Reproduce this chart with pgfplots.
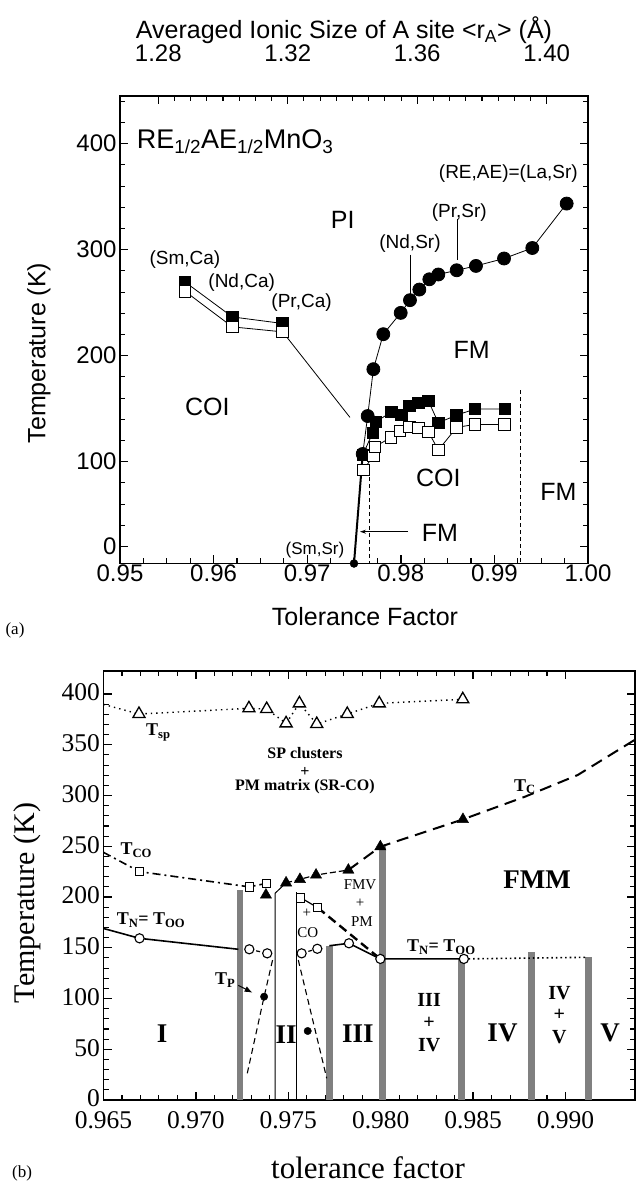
\documentclass[border=0pt]{standalone}
\usepackage{fontspec}
\setmainfont{Liberation Serif}
\setsansfont{Liberation Sans}
\usepackage{pgfplots}
\pgfplotsset{compat=1.18}
\usetikzlibrary{arrows.meta}

\newcommand{\fs}[1]{\fontsize{#1}{#1}\selectfont}

\pgfplotsset{
  panel/.style={
    scale only axis, clip=false, tick align=inside,
    scaled x ticks=false, scaled y ticks=false,
    /pgf/number format/assume math mode=true,
    axis line style={line width=1.8pt},
    major tick style={line width=1.4pt, black},
    minor tick style={line width=1.1pt, black},
    major tick length=8pt, minor tick length=5pt,
  },
  bar/.style={black!50, line width=6.5pt, forget plot},
}

\begin{document}
\begin{tikzpicture}[x=1pt,y=1pt]
\useasboundingbox (0,0) rectangle (638,1183);

% ================= panel (a) =================
\begin{axis}[panel,
  at={(120pt,619.5pt)}, anchor=south west,
  width=468pt, height=467.5pt,
  xmin=0.95, xmax=1.00, ymin=4, ymax=445,
  xtick={0.95,0.96,0.97,0.98,0.99,1.00},
  xticklabels={0.95,0.96,0.97,0.98,0.99,1.00},
  minor x tick num=3,
  ytick={20,100,200,300,400}, yticklabels={0,100,200,300,400},
  minor ytick={40,60,80,120,140,160,180,220,240,260,280,320,340,360,380,420,440},
  xtick pos=left, ytick pos=both,
  tick label style={font=\sffamily\fs{24}},
  xticklabel shift=-2pt,
]
% Ca compounds
\addplot[black, line width=0.8pt] coordinates {(0.96738,222.5) (0.97457,141.8)};
\addplot[black, line width=0.8pt, mark=square*, mark size=5.8pt]
  coordinates {(0.95694,269.6) (0.96200,236.6) (0.96738,230.4)};
\addplot[black, line width=0.8pt, mark=square*, mark size=5.8pt, mark options={fill=white}]
  coordinates {(0.95694,260.8) (0.96200,227.2) (0.96738,222.5)};
% Sr compounds: T_C
\addplot[black, line width=2pt] coordinates {(0.97500,4) (0.97593,107.3)};
\addplot[black, line width=0.8pt, mark=*, mark size=6.5pt] coordinates {
  (0.97593,107.3) (0.97646,143.1) (0.97707,187.3) (0.97813,220.3) (0.97999,240.4)
  (0.98098,252.4) (0.98198,262.4) (0.98305,272.1) (0.98401,276.6) (0.98597,280.6)
  (0.98803,284.7) (0.99103,291.7) (0.99405,301.6) (0.99772,343.5)};
\addplot[black, only marks, mark=*, mark size=4pt] coordinates {(0.97500,4)};
% Sr compounds: T_CO
\addplot[black, line width=0.8pt, mark=square*, mark size=5.8pt] coordinates {
  (0.97593,106.3) (0.97700,127.3) (0.97735,137.7) (0.97902,147.1) (0.98009,144.0)
  (0.98090,152.5) (0.98187,155.6) (0.98294,157.5) (0.98401,136.7) (0.98597,144.0)
  (0.98793,149.7) (0.99113,149.7)};
\addplot[black, line width=0.8pt, mark=square*, mark size=5.8pt, mark options={fill=white}] coordinates {
  (0.97600,92.2) (0.97707,105.4) (0.97724,114.1) (0.97895,123.0) (0.97991,129.2)
  (0.98090,133.0) (0.98187,132.0) (0.98294,128.3) (0.98401,111.0) (0.98597,132.4)
  (0.98793,135.2) (0.99106,135.2)};
% boundaries
\addplot[black, line width=0.9pt, dash pattern=on 4pt off 3pt] coordinates {(0.97663,92) (0.97663,4)};
\addplot[black, line width=0.9pt, dash pattern=on 4pt off 3pt] coordinates {(0.99274,167.6) (0.99274,4)};
\addplot[black, line width=0.9pt, -{Stealth[length=6pt,width=4pt]}] coordinates {(0.98077,34) (0.97564,34)};
\addplot[black, line width=0.9pt] coordinates {(0.98098,295.4) (0.98098,257.1)};
\addplot[black, line width=0.9pt] coordinates {(0.98604,329.3) (0.98604,290.1)};
% labels
\begin{scope}[every node/.style={font=\sffamily\fs{25}}]
\node at (axis cs:0.97379,327.7) {PI};
\node at (axis cs:0.98757,205.2) {FM};
\node at (axis cs:0.95933,151.3) {COI};
\node at (axis cs:0.98401,84.4) {COI};
\node at (axis cs:0.99683,71.7) {FM};
\node at (axis cs:0.98419,32.8) {FM};
\end{scope}
\node[font=\sffamily\fs{27}, anchor=base west, inner sep=0pt] at (axis cs:0.95178,395.3)
  {RE\textsubscript{1/2}AE\textsubscript{1/2}MnO\textsubscript{3}};
\begin{scope}[every node/.style={font=\sffamily\fs{19}, inner sep=0pt}]
\node at (axis cs:0.95694,290.7) {(Sm,Ca)};
\node at (axis cs:0.96300,268.7) {(Nd,Ca)};
\node at (axis cs:0.96940,249.8) {(Pr,Ca)};
\node at (axis cs:0.98098,305.8) {(Nd,Sr)};
\node at (axis cs:0.98625,334.6) {(Pr,Sr)};
\node at (axis cs:0.99149,371.7) {(RE,AE)=(La,Sr)};
\node[font=\sffamily\fs{17}] at (axis cs:0.97083,16.8) {(Sm,Sr)};
\end{scope}
\end{axis}

% top axis of (a)
\begin{axis}[panel,
  at={(120pt,619.5pt)}, anchor=south west,
  width=468pt, height=467.5pt,
  xmin=1.26817, xmax=1.41276, ymin=0, ymax=1,
  axis x line*=top, axis y line=none,
  xtick={1.28,1.32,1.36,1.40}, xticklabels={1.28,1.32,1.36,1.40},
  minor x tick num=7,
  tick label style={font=\sffamily\fs{24}},
  xticklabel shift=31pt,
]
\end{axis}

\node[font=\sffamily\fs{25}] at (344,1153) {Averaged Ionic Size of A site <r\textsubscript{A}> (Å)};
\node[font=\sffamily\fs{25}, rotate=90] at (39,830) {Temperature (K)};
\node[font=\sffamily\fs{25}] at (365,566) {Tolerance Factor};
\node[font=\fs{17}] at (15,553) {(a)};

% ================= panel (b) =================
\begin{axis}[panel,
  at={(103.5pt,83pt)}, anchor=south west,
  width=531.5pt, height=429pt,
  xmin=0.965, xmax=0.99376, ymin=0, ymax=422.7,
  xtick={0.965,0.970,0.975,0.980,0.985,0.990},
  xticklabels={0.965,0.970,0.975,0.980,0.985,0.990},
  minor x tick num=4,
  ytick={0,50,100,150,200,250,300,350,400},
  yticklabels={0,50,100,150,200,250,300,350,400},
  minor y tick num=4,
  xtick pos=both, ytick pos=both,
  tick label style={font=\fs{25.5}},
  xticklabel shift=8pt,
  yticklabel style={yshift=1.5pt},
]
% phase boundaries between regions
\addplot[bar] coordinates {(0.97239,0) (0.97239,206.9)};
\addplot[bar] coordinates {(0.97722,0) (0.97722,151.7)};
\addplot[bar] coordinates {(0.98009,0) (0.98009,250.0)};
\addplot[bar] coordinates {(0.98438,0) (0.98438,139.0)};
\addplot[bar] coordinates {(0.98817,0) (0.98817,146.2)};
\addplot[bar] coordinates {(0.99123,0) (0.99123,141.2)};
\addplot[black, line width=1pt] coordinates {(0.97428,0) (0.97428,203.6) (0.97488,214)};
\addplot[black, line width=1pt] coordinates {(0.97542,0) (0.97542,205)};
% T_sp
\addplot[black, line width=1.4pt, dash pattern=on 1.4pt off 4pt] coordinates {
  (0.965,389.8) (0.96692,380.3) (0.97287,385.9) (0.97383,385.2) (0.97488,371.1)
  (0.97560,390.8) (0.97654,370.4) (0.97819,380.3) (0.97992,390.8) (0.98444,394.8)};
\addplot[black, only marks, mark=triangle*, mark size=7pt, mark options={fill=white, line width=1.3pt}] coordinates {
  (0.96692,380.3) (0.97287,385.9) (0.97383,385.2) (0.97488,371.1)
  (0.97560,390.8) (0.97654,370.4) (0.97819,380.3) (0.97992,390.8) (0.98444,394.8)};
% T_CO
\addplot[black, line width=1.6pt, dash pattern=on 8pt off 4pt on 2pt off 4pt] coordinates {
  (0.965,244) (0.96695,225) (0.97289,210) (0.97383,213.5)};
\addplot[black, line width=1.2pt] coordinates {(0.97567,199.3) (0.97659,189.5)};
\addplot[black, line width=2.4pt, dash pattern=on 9pt off 5pt] coordinates {(0.97659,189.5) (0.97998,139)};
% T_C
\addplot[black, line width=1.2pt, dash pattern=on 6pt off 3pt] coordinates {
  (0.97488,214) (0.97563,217.4) (0.97650,221.7) (0.97825,226.6)};
\addplot[black, line width=2pt, dash pattern=on 12pt off 7pt] coordinates {
  (0.97825,226.6) (0.97998,249.6) (0.98445,276.5) (0.98780,298.8) (0.99066,320.2) (0.99376,355)};
% T_N = T_OO
\addplot[black, line width=1.6pt] coordinates {(0.965,169) (0.96695,159.3) (0.97230,148.5)};
\addplot[black, line width=1.2pt, dash pattern=on 4pt off 3pt] coordinates {(0.97289,148.5) (0.97386,144.5)};
\addplot[black, line width=1.2pt, dash pattern=on 4pt off 3pt] coordinates {(0.97572,144.5) (0.97657,149)};
\addplot[black, line width=1.6pt] coordinates {(0.97722,152) (0.97828,154.4) (0.97998,139) (0.98450,139)};
\addplot[black, line width=1.6pt, dash pattern=on 1.6pt off 3pt] coordinates {(0.98450,139) (0.99121,140.6)};
% T_P
\addplot[black, line width=1.1pt, dash pattern=on 6pt off 4pt] coordinates {(0.97278,26.3) (0.97369,101.8) (0.97419,141.2)};
\addplot[black, line width=1.1pt, dash pattern=on 6pt off 4pt] coordinates {(0.97554,137.9) (0.97708,21.4)};
\addplot[black, line width=1pt, -{Latex[length=8pt,width=6pt]}] coordinates {(0.97229,113) (0.97307,105.7)};
% markers
\addplot[black, only marks, mark=square*, mark size=4.3pt, mark options={fill=white, line width=1pt}] coordinates {
  (0.96695,225) (0.97289,210) (0.97383,213.5) (0.97567,199.3) (0.97659,189.5)};
\addplot[black, only marks, mark=triangle*, mark size=6.5pt] coordinates {
  (0.97379,202) (0.97488,214) (0.97563,217.4) (0.97650,221.7) (0.97825,226.6) (0.97998,249.6) (0.98445,276.5)};
\addplot[black, only marks, mark=*, mark size=4.6pt, mark options={fill=white, line width=1.1pt}] coordinates {
  (0.96695,159.3) (0.97289,148.5) (0.97386,144.5) (0.97572,144.5) (0.97657,149)
  (0.97828,154.4) (0.97998,139) (0.98450,139)};
\addplot[black, only marks, mark=*, mark size=3.7pt] coordinates {(0.97369,101.8) (0.97605,68)};
% labels
\begin{scope}[every node/.style={font=\bfseries\fs{18}, inner sep=0pt}]
\node at (axis cs:0.96797,362) {T\textsubscript{sp}};
\node at (axis cs:0.96677,246.3) {T\textsubscript{CO}};
\node at (axis cs:0.98780,308.7) {T\textsubscript{C}};
\node at (axis cs:0.97158,118) {T\textsubscript{P}};
\node at (axis cs:0.96757,177.3) {T\textsubscript{N}= T\textsubscript{OO}};
\node at (axis cs:0.98328,150.4) {T\textsubscript{N}= T\textsubscript{OO}};
\end{scope}
\begin{scope}[every node/.style={font=\bfseries\fs{16}, inner sep=0pt}]
\node at (axis cs:0.97590,341.6) {SP clusters};
\node at (axis cs:0.97590,323) {+};
\node at (axis cs:0.97590,308.7) {PM matrix (SR-CO)};
\end{scope}
\begin{scope}[every node/.style={font=\fs{15}, inner sep=0pt}]
\node at (axis cs:0.97888,211.8) {FMV};
\node at (axis cs:0.97888,193.8) {+};
\node at (axis cs:0.97898,175.7) {PM};
\node at (axis cs:0.97600,184) {+};
\node at (axis cs:0.97605,164.9) {CO};
\end{scope}
\begin{scope}[every node/.style={font=\bfseries\fs{27}, inner sep=0pt}]
\node at (axis cs:0.98846,216.7) {FMM};
\node at (axis cs:0.96817,65.7) {I};
\node at (axis cs:0.97488,64) {II};
\node at (axis cs:0.97877,65.7) {III};
\node at (axis cs:0.98659,65.7) {IV};
\node at (axis cs:0.99242,65.7) {V};
\end{scope}
\begin{scope}[every node/.style={font=\bfseries\fs{20}, inner sep=0pt}]
\node at (axis cs:0.98262,98.5) {III};
\node at (axis cs:0.98262,75.6) {+};
\node at (axis cs:0.98262,54.2) {IV};
\node at (axis cs:0.98967,105.1) {IV};
\node at (axis cs:0.98967,83.7) {+};
\node at (axis cs:0.98967,62.4) {V};
\end{scope}
\end{axis}

\node[font=\fs{30}, rotate=90] at (27,280) {Temperature (K)};
\node[font=\fs{31}, anchor=base] at (368,5) {tolerance factor};
\node[font=\fs{17}] at (22,10) {(b)};
\end{tikzpicture}
\end{document}
